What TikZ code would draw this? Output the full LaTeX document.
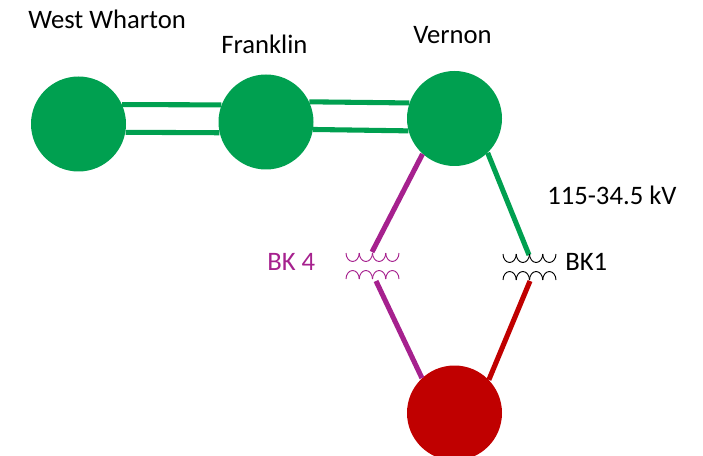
\documentclass[tikz,border=0pt]{standalone}
\usepackage{fontspec}
\setmainfont{Carlito}
\definecolor{busgreen}{RGB}{0,160,80}
\definecolor{busred}{RGB}{192,0,0}
\definecolor{bkpurple}{RGB}{166,33,142}
\newcommand{\coilpair}[3]{%
	\foreach \i in {0,1,2,3} {
		\draw [#3] ({#1+13.25*\i},#2) arc [start angle=180, end angle=0, x radius=6.62, y radius=8.5];
		\draw [#3] ({#1+13.25*\i},#2+26) arc [start angle=180, end angle=360, x radius=6.62, y radius=8.5];
	}
}
\tikzset{
	bus/.style={circle, inner sep=0pt, minimum size=71.25pt},
	feeder/.style={line width=3.8pt},
	lbl/.style={inner sep=0.75pt, font=\fontsize{20}{24}\selectfont}
}
\begin{document}
\begin{tikzpicture}[x=0.75pt,y=0.75pt,yscale=-1,xscale=1]
	\useasboundingbox (0,0) rectangle (703,456);
	\node [bus, fill=busgreen] (wharton) at (78.5,124) {};
	\node [bus, fill=busgreen] (franklin) at (266,122) {};
	\node [bus, fill=busgreen] (vernon) at (454.5,118.5) {};
	\node [bus, fill=busred] (low) at (454.5,413) {};
	\coordinate (bkfourhi) at (372,252);
	\coordinate (bkfourlo) at (376,281);
	\coordinate (bkonehi) at (529,255);
	\coordinate (bkonelo) at (530,281);
	\draw [feeder, busgreen] (wharton.24) -- (franklin.159);
	\draw [feeder, busgreen] (wharton.-10) -- (franklin.193);
	\draw [feeder, busgreen] (franklin.25) -- (vernon.161);
	\draw [feeder, busgreen] (franklin.-9) -- (vernon.195);
	\draw [feeder, bkpurple] (vernon.228) -- (bkfourhi);
	\draw [feeder, bkpurple] (bkfourlo) -- (low.133);
	\draw [feeder, busgreen] (vernon.-46) -- (bkonehi);
	\draw [feeder, busred] (bkonelo) -- (low.44);
	\coilpair{346}{253}{bkpurple, line width=0.7pt}
	\coilpair{503}{254}{black, line width=0.7pt}
	\node [lbl, anchor=west] (whartonlbl) at (27,19) {West Wharton};
	\node [lbl, anchor=west] (franklinlbl) at (220,44) {Franklin};
	\node [lbl, anchor=west] (vernonlbl) at (412,35) {Vernon};
	\node [lbl, anchor=west] (ratinglbl) at (546,195) {115-34.5 kV};
	\node [lbl, anchor=west, text=bkpurple] (bkfourlbl) at (266,262) {BK 4};
	\node [lbl, anchor=west] (bkonelbl) at (564,262) {BK1};
\end{tikzpicture}
\end{document}
